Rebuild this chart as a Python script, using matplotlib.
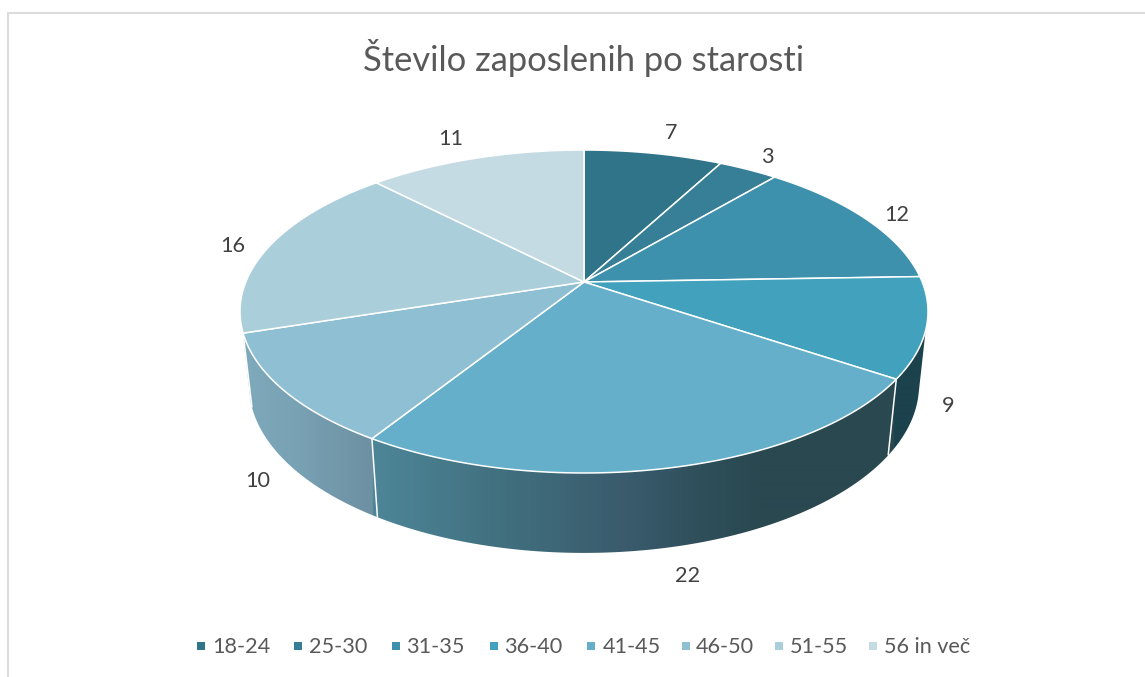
import numpy as np
import matplotlib
matplotlib.use("Agg")
import matplotlib.pyplot as plt
from matplotlib.patches import Polygon
from matplotlib.colors import to_rgb

plt.rcParams['font.family'] = ['Lato', 'DejaVu Sans']

TITLE = "Število zaposlenih po starosti"
categories = ["18-24", "25-30", "31-35", "36-40", "41-45", "46-50", "51-55", "56 in več"]
values = [7, 3, 12, 9, 22, 10, 16, 11]
colors = ["#2f7488", "#367f96", "#3e91ac", "#42a1bd", "#65afca", "#8fbfd2", "#abcedb", "#c5dbe4"]

# layout (pixel space of the 1145x677 canvas)
CX, CY, A, B, K = 584, 282, 338.2, 156.1, 0.1827
label_pos = [(671, 133), (767, 157), (897, 215), (948, 406), (688, 576), (258, 481), (233, 246), (451, 139)]
legend_swatch_x = [201, 298, 396, 494, 591, 686, 779, 873]
legend_text_x = [212.5, 309.5, 406.5, 504.5, 602.5, 695.5, 789.5, 883.5]
side_stops = [(240, "#7fabbd"), (300, "#78a1b3"), (372, "#6d90a2"), (373, "#4d8698"),
              (500, "#41707f"), (620, "#3a5c6d"), (700, "#2f4f5b"), (760, "#294850"),
              (893, "#2b4850"), (894, "#1b424d"), (930, "#1b424d")]

fig = plt.figure(figsize=(11.45, 6.77), dpi=100, facecolor="white")
ax = fig.add_axes([0, 0, 1, 1])
ax.set_xlim(0, 1145)
ax.set_ylim(677, 0)
ax.axis("off")


def top_point(theta, r=1.0):
    """Clockwise angle from 12 o'clock on the disc -> canvas pixel (perspective)."""
    u, v = r * np.sin(theta), r * np.cos(theta)
    d = 1 + K * v
    return CX + A * u / d, CY - B * v / d


def bottom_point(theta):
    x, y = top_point(theta)
    return CX + 0.974 * (x - CX), 1.04 * y + 61


# frame
ax.plot([8, 8, 1145], [677, 13, 13], color="#dcdcdc", lw=1.5, solid_joinstyle="miter")

edges = np.deg2rad(np.cumsum([0] + values) / sum(values) * 360)

# side gradient
gx = np.arange(238, 932)
gc = np.array([np.interp(gx, [s[0] for s in side_stops], [to_rgb(s[1])[i] for s in side_stops])
               for i in range(3)]).T[None, :, :]
t_top = np.linspace(np.deg2rad(107), np.deg2rad(253), 400)
t_bot = np.linspace(np.deg2rad(104), np.deg2rad(254), 400)
tx, ty = top_point(t_top)
bx, by = bottom_point(t_bot)
sil = Polygon(np.r_[np.c_[tx, ty], np.c_[bx, by][::-1]], closed=True, transform=ax.transData,
              fc="none", ec="none")
ax.add_patch(sil)
im = ax.imshow(gc, extent=(238, 932, 600, 300), aspect="auto", interpolation="bilinear", zorder=1)
im.set_clip_path(sil)
ax.set_xlim(0, 1145)
ax.set_ylim(677, 0)

# side separators
for e in edges:
    if t_top[0] < e < t_top[-1]:
        x0, y0 = top_point(e)
        x1, y1 = bottom_point(e)
        ax.plot([x0, x1], [y0, y1], color="white", lw=1.1, zorder=2, solid_capstyle="butt")

# top face
for a0, a1, c in zip(edges[:-1], edges[1:], colors):
    th = np.linspace(a0, a1, 120)
    x, y = top_point(th)
    ax.fill(np.r_[CX, x], np.r_[CY, y], facecolor=c, edgecolor="white", lw=1.1,
            joinstyle="round", zorder=3)

# data labels
for (x, y), v in zip(label_pos, values):
    ax.text(x, y, str(v), ha="center", va="center", fontsize=15.6, color="#404040", zorder=5)

# title
ax.text(584, 58, TITLE, ha="center", va="center", fontsize=24.85, color="#595959")

# legend
for sx, tx_, c, name in zip(legend_swatch_x, legend_text_x, colors, categories):
    ax.add_patch(plt.Rectangle((sx - 4, 642), 8, 8, fc=c, ec="none"))
    ax.text(tx_, 647, name, ha="left", va="center", fontsize=15.6, color="#595959")

fig.savefig("out.png", dpi=100)
